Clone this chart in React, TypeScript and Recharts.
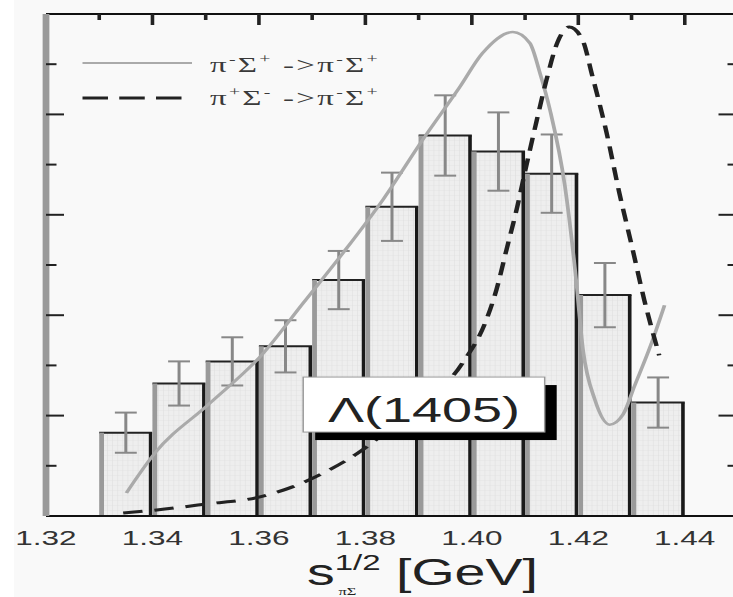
import React from 'react';
import { ComposedChart, Bar, Line, Scatter, XAxis, YAxis, ErrorBar, ReferenceDot, Label } from 'recharts';

// histogram bins (centre of each 10 MeV bin), heights and errors
const BIN_CENTERS = [1.335, 1.345, 1.355, 1.365, 1.375, 1.385, 1.395, 1.405, 1.415, 1.425, 1.435];
const BIN_COUNTS = [0.83, 1.32, 1.54, 1.69, 2.35, 3.08, 3.79, 3.63, 3.41, 2.2, 1.13];
const BIN_ERRORS = [0.2, 0.22, 0.24, 0.26, 0.29, 0.34, 0.4, 0.39, 0.39, 0.32, 0.25];
const BIN_WIDTH = 0.01;

// pi- Sigma+ -> pi- Sigma+
const SOLID_X = [1.3351, 1.3405, 1.3505, 1.3608, 1.3683, 1.3758, 1.3833, 1.3908, 1.3977, 1.402, 1.4077, 1.4109, 1.4128, 1.4147, 1.4175, 1.4194, 1.4209, 1.4231, 1.4259, 1.4284, 1.4306, 1.4336, 1.4362];
const SOLID_Y = [0.23, 0.63, 1.11, 1.62, 2.12, 2.62, 3.15, 3.75, 4.27, 4.61, 4.82, 4.71, 4.41, 4.04, 3.28, 2.45, 1.65, 1.16, 0.91, 1.01, 1.3, 1.7, 2.1];

// pi+ Sigma- -> pi- Sigma+
const DASHED_X = [1.3345, 1.3408, 1.3502, 1.3602, 1.3663, 1.3714, 1.3784, 1.3883, 1.3982, 1.4027, 1.4046, 1.4065, 1.4084, 1.4102, 1.4121, 1.414, 1.4161, 1.4183, 1.4208, 1.4226, 1.4253, 1.4277, 1.4301, 1.4324, 1.4352];
const DASHED_Y = [0.03, 0.06, 0.12, 0.19, 0.29, 0.41, 0.62, 1.04, 1.52, 1.95, 2.25, 2.65, 3.05, 3.48, 3.92, 4.34, 4.72, 4.87, 4.74, 4.39, 3.82, 3.22, 2.68, 2.15, 1.6];

const X_MIN = 1.32;
const X_MAX = 1.45;
const X_TICKS = [1.32, 1.34, 1.36, 1.38, 1.4, 1.42, 1.44];
const X_FRAME_TICKS = [1.33, 1.34, 1.35, 1.36, 1.37, 1.38, 1.39, 1.4, 1.41, 1.42, 1.43, 1.44];
const Y_MAX = 5;
const Y_FRAME_TICKS = [0.5, 1, 1.5, 2, 2.5, 3, 3.5, 4, 4.5];

const SERIES_NAMES = ['π⁻Σ⁺ ->π⁻Σ⁺', 'π⁺Σ⁻ ->π⁻Σ⁺'];
const RESONANCE_LABEL = 'Λ(1405)';
const RESONANCE_AT = { x: 1.391, y: 1.11 };

const bins = BIN_CENTERS.map((x, i) => ({ x, count: BIN_COUNTS[i], err: BIN_ERRORS[i] }));
const solidCurve = SOLID_X.map((x, i) => ({ x, y: SOLID_Y[i] }));
const dashedCurve = DASHED_X.map((x, i) => ({ x, y: DASHED_Y[i] }));
const topFrame = X_FRAME_TICKS.map((x) => ({ x, y: Y_MAX }));

// the whole plot is drawn narrow and stretched 1.5x sideways
const STRETCH = 1.5;
const CHART_W = 500;
const CHART_H = 597;
const MARGIN = { top: 14, right: 8, bottom: 0, left: 30.67 };
const PLOT_W = CHART_W - MARGIN.left - MARGIN.right;
const BIN_PX = (PLOT_W * BIN_WIDTH) / (X_MAX - X_MIN);

const SANS = '"Liberation Sans", Arial, Helvetica, sans-serif';
const SERIF = '"Liberation Serif", "Times New Roman", serif';

const isMajorY = (v: number) => Math.abs(v - Math.round(v)) < 1e-6;
const isMajorX = (v: number) => Math.round(v * 100) % 2 === 0;

const noLabel = () => <g />;

// inward side ticks: long on whole values, short in between
const sideTick = (dir: number, major: number, minor: number) => (props: any) => {
  const { x, y, payload } = props;
  const len = isMajorY(payload.value) ? major : minor;
  return <line x1={x} x2={x + dir * len} y1={y} y2={y} stroke="#222" strokeWidth={2} />;
};

// inward tick hanging from the top frame
const TopTick = (props: any) => {
  const { cx, cy, payload } = props;
  const len = isMajorX(payload.x) ? 11 : 6;
  return <line x1={cx} x2={cx} y1={cy} y2={cy + len} stroke="#222" strokeWidth={2.4} />;
};

const chargedSpans = (label: string, size: number) => {
  const out: React.ReactNode[] = [];
  let up = false;
  Array.from(label).forEach((ch, i) => {
    const sup = ch === '⁻' || ch === '⁺';
    let dy = 0;
    if (sup && !up) dy = -size * 0.4;
    if (!sup && up) dy = size * 0.4;
    up = sup;
    out.push(
      <tspan key={i} dy={dy || undefined} fontSize={sup ? size * 0.6 : size}>
        {sup ? (ch === '⁻' ? '-' : '+') : ch}
      </tspan>
    );
  });
  return out;
};

// one histogram bin: gridded fill, dark top and right edge, grey left edge
const HistBin = (props: any) => {
  const { x, y, width, height } = props;
  if (!height) return null;
  const left = x + width / 2 - BIN_PX / 2;
  const right = left + BIN_PX;
  return (
    <g>
      <rect x={left} y={y} width={BIN_PX} height={height} fill="url(#binGrid)" />
      <line x1={left} x2={right} y1={y} y2={y} stroke="#222" strokeWidth={2} />
      <line x1={left + 1.6} x2={left + 1.6} y1={y} y2={y + height} stroke="#9a9a9a" strokeWidth={3.2} />
      <line x1={right - 1.2} x2={right - 1.2} y1={y} y2={y + height} stroke="#1a1a1a" strokeWidth={2.4} />
    </g>
  );
};

const ResonanceBox = (props: any) => {
  const { cx, cy } = props;
  const w = 161;
  const h = 55;
  return (
    <g>
      <rect x={cx - w / 2 + 8} y={cy - h / 2 + 8} width={w} height={h} fill="#000" />
      <rect x={cx - w / 2} y={cy - h / 2} width={w} height={h} fill="#fff" stroke="#999" strokeWidth={1} />
      <text x={cx} y={cy + 17} textAnchor="middle" fontSize={36} fill="#222" fontFamily={SANS}>
        {RESONANCE_LABEL}
      </text>
    </g>
  );
};

const AxisTitle = (props: any) => {
  const { viewBox } = props;
  const x0 = viewBox.x + 174;
  const base = viewBox.y + 69;
  return (
    <g fontFamily={SANS} fill="#222">
      <text x={x0} y={base} fontSize={37}>
        <tspan>s</tspan>
        <tspan dy={-15} fontSize={22}>1/2</tspan>
        <tspan dy={15}> [GeV]</tspan>
      </text>
      <text x={x0 + 21} y={base + 10} fontSize={11} fontFamily={SERIF}>πΣ</text>
    </g>
  );
};

export default function App() {
  return (
    <div style={{ position: 'fixed', left: 0, top: 0, width: 733, height: 597, overflow: 'hidden', background: '#f9f9f9' }}>
      <div style={{ position: 'absolute', left: 0, top: 0, width: 14, height: 597, background: '#fff' }} />
      <div style={{ position: 'absolute', left: 0, top: 0, width: CHART_W, transform: `scale(${STRETCH}, 1)`, transformOrigin: '0 0' }}>
        <ComposedChart width={CHART_W} height={CHART_H} data={bins} margin={MARGIN}>
          <defs>
            <pattern id="binGrid" width={3.4} height={5} patternUnits="userSpaceOnUse">
              <rect width={3.4} height={5} fill="#eeeeee" />
              <path d="M0 0H3.4M0 0V5" stroke="#dcdcdc" strokeWidth={0.6} />
            </pattern>
          </defs>

          <XAxis
            xAxisId="x"
            dataKey="x"
            type="number"
            domain={[X_MIN, X_MAX]}
            allowDataOverflow
            ticks={X_TICKS}
            interval={0}
            tickFormatter={(v: number) => v.toFixed(2)}
            height={81}
            axisLine={{ stroke: '#111', strokeWidth: 2 }}
            tickLine={false}
            tickSize={0}
            tickMargin={14}
            tick={{ fontSize: 21, fill: '#333', fontFamily: SANS }}
          >
            <Label content={AxisTitle} />
          </XAxis>
          <XAxis
            xAxisId="top"
            dataKey="x"
            orientation="top"
            type="number"
            domain={[X_MIN, X_MAX]}
            allowDataOverflow
            mirror
            tickLine={false}
            tick={noLabel}
            axisLine={{ stroke: '#111', strokeWidth: 2 }}
          />

          <YAxis
            yAxisId="y"
            type="number"
            domain={[0, Y_MAX]}
            allowDataOverflow
            ticks={Y_FRAME_TICKS}
            interval={0}
            mirror
            tickLine={false}
            tickSize={0}
            tickMargin={0}
            tick={sideTick(1, 12, 7)}
            axisLine={{ stroke: '#9a9a9a', strokeWidth: 4.5 }}
          />
          <YAxis
            yAxisId="yRight"
            orientation="right"
            type="number"
            domain={[0, Y_MAX]}
            allowDataOverflow
            ticks={Y_FRAME_TICKS}
            interval={0}
            mirror
            tickLine={false}
            tickSize={0}
            tickMargin={0}
            tick={sideTick(-1, 13, 7)}
            axisLine={{ stroke: '#111', strokeWidth: 2 }}
          />

          <Bar
            xAxisId="x"
            yAxisId="y"
            dataKey="count"
            barSize={BIN_PX}
            shape={<HistBin />}
            legendType="none"
            isAnimationActive={false}
          >
            <ErrorBar dataKey="err" width={7.3} stroke="#888" strokeWidth={2} direction="y" />
          </Bar>
          <Line
            xAxisId="x"
            yAxisId="y"
            data={solidCurve}
            dataKey="y"
            name={SERIES_NAMES[0]}
            type="monotone"
            stroke="#aaaaaa"
            strokeWidth={2.5}
            dot={false}
            activeDot={false}
            isAnimationActive={false}
          />
          <Line
            xAxisId="x"
            yAxisId="y"
            data={dashedCurve}
            dataKey="y"
            name={SERIES_NAMES[1]}
            type="monotone"
            stroke="#222"
            strokeWidth={3}
            strokeDasharray="13 8"
            dot={false}
            activeDot={false}
            isAnimationActive={false}
          />
          <Scatter
            xAxisId="x"
            yAxisId="y"
            data={topFrame}
            dataKey="y"
            shape={TopTick}
            legendType="none"
            isAnimationActive={false}
          />
          <ReferenceDot
            xAxisId="x"
            yAxisId="y"
            x={RESONANCE_AT.x}
            y={RESONANCE_AT.y}
            ifOverflow="visible"
            shape={ResonanceBox}
          />

          <g fontFamily={SERIF} fill="#3a3a3a" letterSpacing={1.5}>
            <line x1={55} x2={128} y1={63} y2={63} stroke="#aaaaaa" strokeWidth={2} />
            <text x={140} y={72}>{chargedSpans(SERIES_NAMES[0], 22)}</text>
            <line x1={55} x2={121} y1={98} y2={98} stroke="#222" strokeWidth={3} strokeDasharray="17 7.5" />
            <text x={140} y={105}>{chargedSpans(SERIES_NAMES[1], 22)}</text>
          </g>
        </ComposedChart>
      </div>
    </div>
  );
}
